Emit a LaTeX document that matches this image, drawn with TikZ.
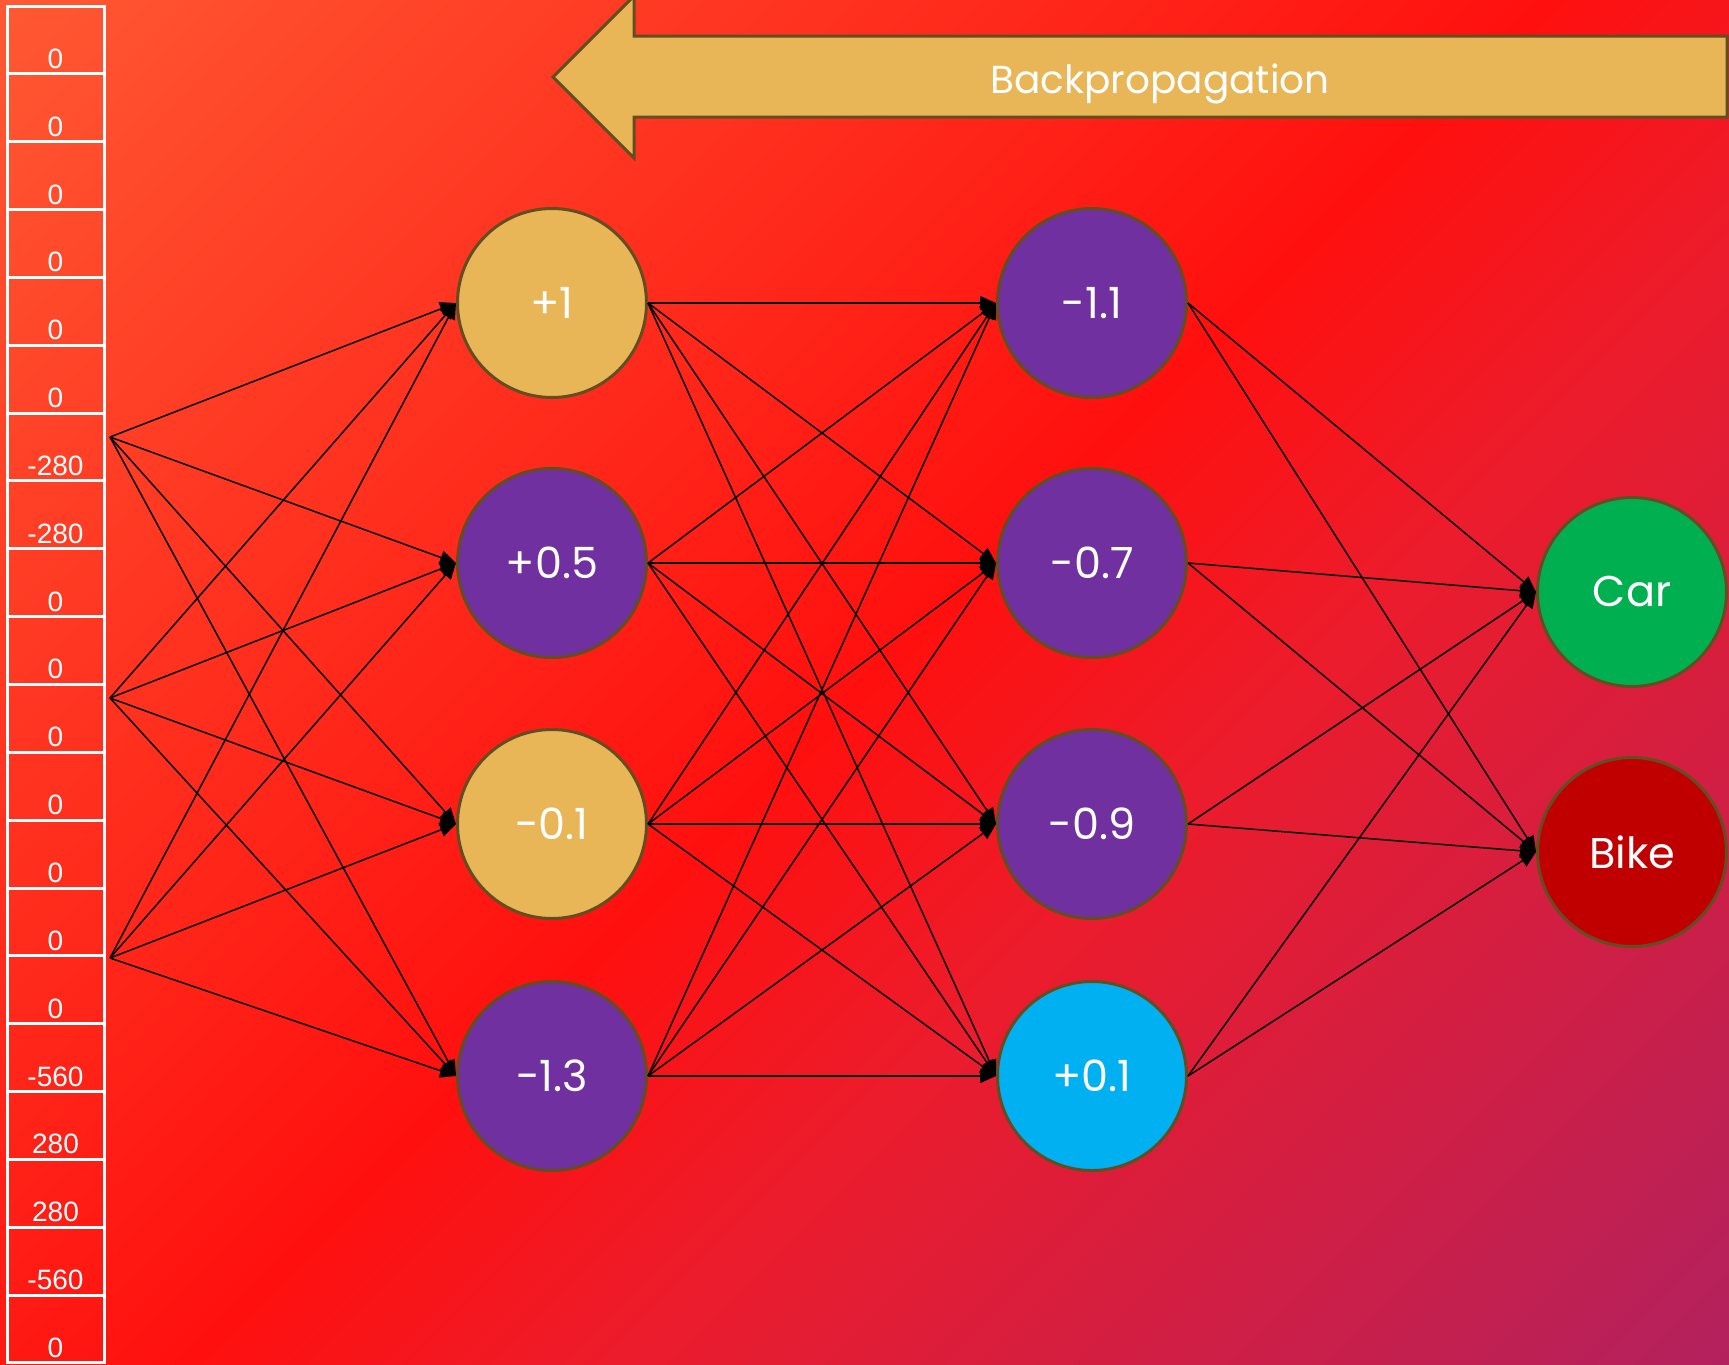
\documentclass[tikz,border=0pt]{standalone}
\usepackage{fontspec}
\setmainfont{Poppins}
\newfontfamily\cellfont{Liberation Sans}
\usetikzlibrary{arrows.meta}

\definecolor{bgorange}{RGB}{255,118,66}
\definecolor{bgred}{RGB}{255,16,14}
\definecolor{bgcrimson}{RGB}{236,28,44}
\definecolor{bgpurple}{RGB}{146,36,122}
\definecolor{nodegold}{RGB}{233,182,87}
\definecolor{nodepurple}{RGB}{112,48,160}
\definecolor{nodegreen}{RGB}{0,176,80}
\definecolor{nodecrimson}{RGB}{192,0,0}
\definecolor{nodecyan}{RGB}{0,176,240}
\definecolor{rimbrown}{RGB}{99,78,33}

\pgfdeclarehorizontalshading{bgshade}{100bp}{color(0bp)=(bgorange); color(50bp)=(bgred); color(60bp)=(bgcrimson); color(100bp)=(bgpurple)}

\tikzset{
  cell/.style={draw=white, line width=1.5pt, minimum width=48.5pt, minimum height=33.9pt, inner sep=0pt},
  cellval/.style={text=white, font=\cellfont\fontsize{14pt}{14pt}\selectfont, anchor=base, inner sep=0pt},
  neuron/.style={circle, draw=rimbrown, line width=1.5pt, minimum size=94.5pt, inner sep=0pt, text=white, font=\fontsize{21.5pt}{21.5pt}\selectfont},
  link/.style={line width=0.75pt, -{Triangle[length=8pt,width=7pt]}},
}

\begin{document}
\begin{tikzpicture}[x=0.5pt,y=-0.5pt]
  \useasboundingbox (0,0) rectangle (1729,1365);
  %background
  \shade[shading=bgshade, shading angle=-45] (0,0) rectangle (1729,1365);

  %input column
  \foreach \v [count=\i] in {0,0,0,0,0,0,-280,-280,0,0,0,0,0,0,0,-560,280,280,-560,0} {
    \node[cell] (cell\i) at (55.5,{6+67.85*(\i-0.5)}) {};
    \node[cellval] (val\i) at ([yshift=3.5pt]cell\i.south) {\v};
  }

  %backpropagation arrow
  \draw[fill=nodegold, draw=rimbrown, line width=1.5pt] (553,77) -- (634,-4) -- (634,36) -- (1727,36) -- (1727,117) -- (634,117) -- (634,158) -- cycle;
  \node[text=white, font=\fontsize{19.5pt}{19.5pt}\selectfont, anchor=base, inner sep=0pt] (bptext) at (1160,93) {Backpropagation};

  %inputs
  \coordinate (in1) at (110,437);
  \coordinate (in2) at (110,698);
  \coordinate (in3) at (110,958);

  %first hidden layer
  \node[neuron, fill=nodegold] (ha1) at (552,303) {+1};
  \node[neuron, fill=nodepurple] (ha2) at (552,563) {+0.5};
  \node[neuron, fill=nodegold] (ha3) at (552,824) {-0.1};
  \node[neuron, fill=nodepurple] (ha4) at (552,1076) {-1.3};

  %second hidden layer
  \node[neuron, fill=nodepurple] (hb1) at (1092,303) {-1.1};
  \node[neuron, fill=nodepurple] (hb2) at (1092,563) {-0.7};
  \node[neuron, fill=nodepurple] (hb3) at (1092,824) {-0.9};
  \node[neuron, fill=nodecyan] (hb4) at (1092,1076) {+0.1};

  %outputs
  \node[neuron, fill=nodegreen] (car) at (1632,592) {Car};
  \node[neuron, fill=nodecrimson] (bike) at (1632,852) {Bike};

  %connections
  \foreach \s in {1,2,3}
    \foreach \t in {1,...,4}
      \draw[link] (in\s) -- (ha\t.west);
  \foreach \s in {1,...,4}
    \foreach \t in {1,...,4}
      \draw[link] (ha\s.east) -- (hb\t.west);
  \foreach \s in {1,...,4}
    \foreach \t in {car,bike}
      \draw[link] (hb\s.east) -- (\t.west);
\end{tikzpicture}
\end{document}
